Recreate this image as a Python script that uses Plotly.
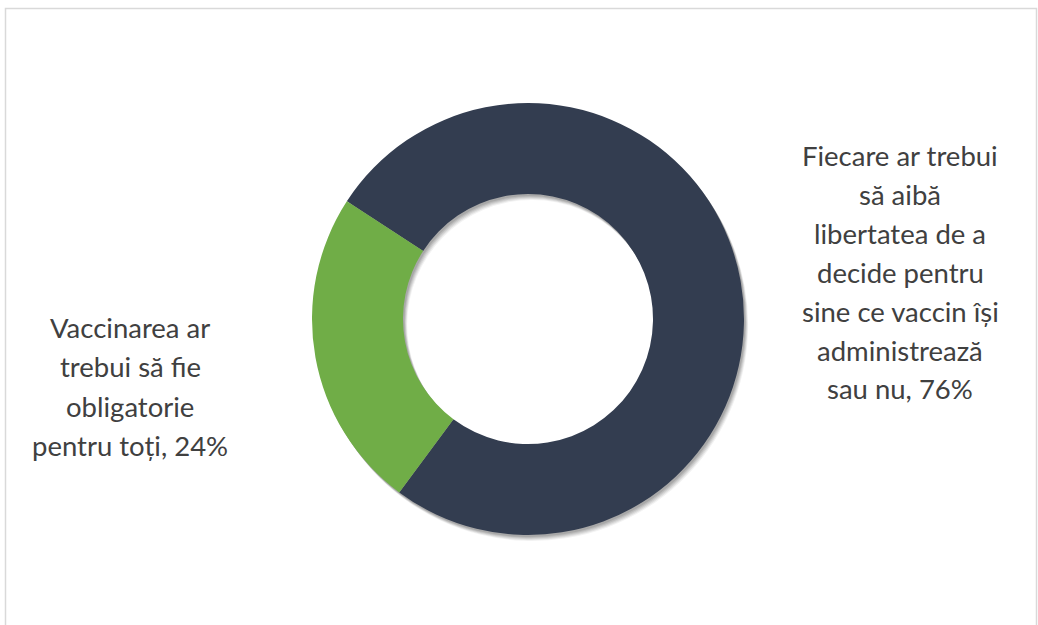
import plotly.graph_objects as go

# Data
labels = ["Fiecare ar trebui să aibă libertatea de a decide pentru sine ce vaccin își administrează sau nu",
          "Vaccinarea ar trebui să fie obligatorie pentru toți"]
values = [76, 24]
colors = ["#333D50", "#70AD47"]
right_label_lines = ["Fiecare ar trebui", "să aibă", "libertatea de a", "decide pentru",
                     "sine ce vaccin își", "administrează", "sau nu, 76%"]
left_label_lines = ["Vaccinarea ar", "trebui să fie", "obligatorie", "pentru toți, 24%"]

W, H = 1038, 625
cx, cy, r = 528, 319, 216
hole = 125 / 216
rotation = -57

def dom(dx=0, dy=0):
    return dict(x=[(cx - r + dx) / W, (cx + r + dx) / W],
                y=[(H - (cy + r + dy)) / H, (H - (cy - r + dy)) / H])

fig = go.Figure()
# soft shadow layers
for off, a in [(6, 0.05), (5, 0.07), (4, 0.08), (3, 0.09), (2, 0.1)]:
    fig.add_trace(go.Pie(values=values, labels=labels, hole=hole, sort=False,
                         direction="clockwise", rotation=rotation,
                         marker=dict(colors=[f"rgba(0,0,0,{a})"] * len(values), line=dict(width=0)),
                         textinfo="none", hoverinfo="skip", showlegend=False,
                         domain=dom(off * 0.7, off)))
fig.add_trace(go.Pie(values=values, labels=labels, hole=hole, sort=False,
                     direction="clockwise", rotation=rotation,
                     marker=dict(colors=colors, line=dict(width=0)),
                     textinfo="none", showlegend=False, domain=dom()))

font = dict(family="Lato, Open Sans, sans-serif", size=27.5, color="#404040")
spacing = 39
for i, t in enumerate(right_label_lines):
    fig.add_annotation(text=t, x=900 / W, y=1 - (155 + i * spacing) / H, xref="paper", yref="paper",
                       showarrow=False, xanchor="center", yanchor="middle", font=font)
for i, t in enumerate(left_label_lines):
    fig.add_annotation(text=t, x=130 / W, y=1 - (327 + i * 39.5) / H, xref="paper", yref="paper",
                       showarrow=False, xanchor="center", yanchor="middle", font=font)

fig.add_shape(type="rect", xref="paper", yref="paper", x0=5.5 / W, x1=1036.5 / W,
              y0=-0.05, y1=1 - 8.5 / H, line=dict(color="#D9D9D9", width=1.5))

fig.update_layout(width=W, height=H, margin=dict(l=0, r=0, t=0, b=0),
                  paper_bgcolor="white", plot_bgcolor="white", showlegend=False)
fig.write_html("out.html", config={"displayModeBar": False},
               post_script="document.body.style.margin='0';document.body.style.overflow='hidden';")
